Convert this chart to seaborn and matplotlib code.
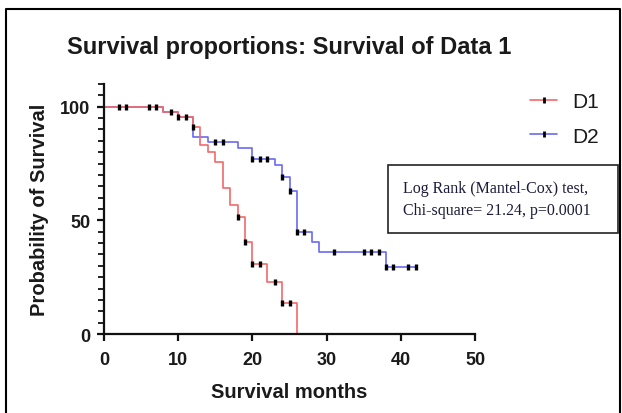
import matplotlib
matplotlib.use("Agg")
import matplotlib.pyplot as plt
import pandas as pd
import seaborn as sns
from matplotlib.lines import Line2D
from matplotlib.patches import Rectangle
from matplotlib.ticker import MultipleLocator

# --- Data (Kaplan-Meier steps, percent) ---
d1_months = [0, 8, 10, 12, 13, 14, 15, 16, 17, 18, 19, 20, 22, 24, 26]
d1_surv = [100, 97.7, 95.5, 91.0, 83.0, 80.0, 75.6, 64.4, 56.7, 51.5, 40.4, 30.8, 22.8, 13.5, 0]
d1_cens_months = [2, 3, 6, 7, 9, 10, 11, 12, 18, 19, 20, 21, 23, 24, 25]
d1_cens_surv = [100, 100, 100, 100, 97.7, 95.5, 95.5, 91.0, 51.5, 40.4, 30.8, 30.8, 22.8, 13.5, 13.5]

d2_months = [0, 8, 10, 12, 14, 18, 20, 23, 24, 25, 26, 28, 29, 38, 42]
d2_surv = [100, 97.7, 95.5, 86.6, 84.4, 82.0, 77.1, 74.5, 69.0, 63.1, 44.8, 40.4, 36.3, 29.4, 29.4]
d2_cens_months = [15, 16, 20, 21, 22, 24, 25, 26, 27, 31, 35, 36, 37, 38, 39, 41, 42]
d2_cens_surv = [84.4, 84.4, 77.1, 77.1, 77.1, 69.0, 63.1, 44.8, 44.8, 36.3, 36.3, 36.3, 36.3,
                29.4, 29.4, 29.4, 29.4]

groups = ["D1", "D2"]
colors = {"D1": "#F46A6A", "D2": "#6A6AF4"}
stats_text = "Log Rank (Mantel-Cox) test,\nChi-square= 21.24, p=0.0001"

W, H = 622, 414


def fx(px):
    return px / W


def fy(py):
    return 1 - py / H


def main():
    sns.set_theme(style="ticks")
    plt.rcParams["font.family"] = ["Liberation Sans", "DejaVu Sans"]

    steps = pd.concat([
        pd.DataFrame({"month": d2_months, "surv": d2_surv, "group": "D2"}),
        pd.DataFrame({"month": d1_months, "surv": d1_surv, "group": "D1"}),
    ])
    cens = pd.concat([
        pd.DataFrame({"month": d2_cens_months, "surv": d2_cens_surv, "group": "D2"}),
        pd.DataFrame({"month": d1_cens_months, "surv": d1_cens_surv, "group": "D1"}),
    ])

    fig = plt.figure(figsize=(W / 100, H / 100), dpi=100)
    ax = fig.add_axes([fx(104), fy(335), fx(475) - fx(104), fy(85) - fy(335)])

    # blue first so the red curve sits on top where they coincide
    sns.lineplot(data=steps, x="month", y="surv", hue="group", hue_order=["D2", "D1"],
                 palette=colors, drawstyle="steps-post", estimator=None, sort=False,
                 legend=False, linewidth=1.2, ax=ax)
    sns.scatterplot(data=cens, x="month", y="surv", marker="|", color="black",
                    s=13, linewidth=2.4, legend=False, ax=ax, zorder=5)

    ax.set_xlim(0, 50)
    ax.set_ylim(0, 110)
    ax.set_xticks([0, 10, 20, 30, 40, 50])
    ax.set_yticks([0, 50, 100])
    ax.yaxis.set_minor_locator(MultipleLocator(5))
    sns.despine(ax=ax)
    for side in ["left", "bottom"]:
        ax.spines[side].set_linewidth(1.6)
        ax.spines[side].set_color("#111111")
    ax.tick_params(which="major", length=5, width=1.6, color="#111111",
                   labelsize=13, labelcolor="#1a1a1a")
    ax.tick_params(axis="x", which="major", pad=7)
    ax.tick_params(axis="y", which="major", pad=5)
    ax.tick_params(which="minor", length=4, width=1.3, color="#111111")
    for lab in ax.get_xticklabels() + ax.get_yticklabels():
        lab.set_fontweight("bold")

    ax.set_title("Survival proportions: Survival of Data 1", fontsize=17,
                 fontweight="bold", color="#1a1a1a", pad=22)
    ax.set_xlabel("Survival months", fontsize=14.5, fontweight="bold", color="#1a1a1a", labelpad=10)
    ax.set_ylabel("Probability of Survival", fontsize=14.5, fontweight="bold",
                  color="#1a1a1a", labelpad=8)

    handles = [Line2D([0], [0], color=colors[g], lw=1.2, marker="|", markersize=4,
                      markeredgewidth=2, markeredgecolor="black") for g in groups]
    fig.legend(handles, groups, loc="upper left", bbox_to_anchor=(fx(530), fy(93)),
               frameon=False, fontsize=15, handlelength=1.3, handletextpad=0.75,
               labelspacing=0.75, borderpad=0, borderaxespad=0, labelcolor="#1a1a1a")

    # stats box
    fig.add_artist(Rectangle((fx(388), fy(234)), fx(618) - fx(388), fy(166) - fy(234),
                             transform=fig.transFigure, fill=False, edgecolor="#222222",
                             linewidth=1.2))
    fig.text(fx(403), fy(200), stats_text, family=["Liberation Serif", "DejaVu Serif"],
             fontsize=11.5, color="#1c1c3a", ha="left", va="center", linespacing=1.45)

    # outer frame (left, top, right)
    fig.add_artist(Line2D([fx(6), fx(6), fx(620), fx(620)], [fy(420), fy(10), fy(10), fy(420)],
                          transform=fig.transFigure, color="black", lw=1.5))

    fig.savefig("out.png", dpi=100)
    plt.close(fig)


if __name__ == "__main__":
    main()
